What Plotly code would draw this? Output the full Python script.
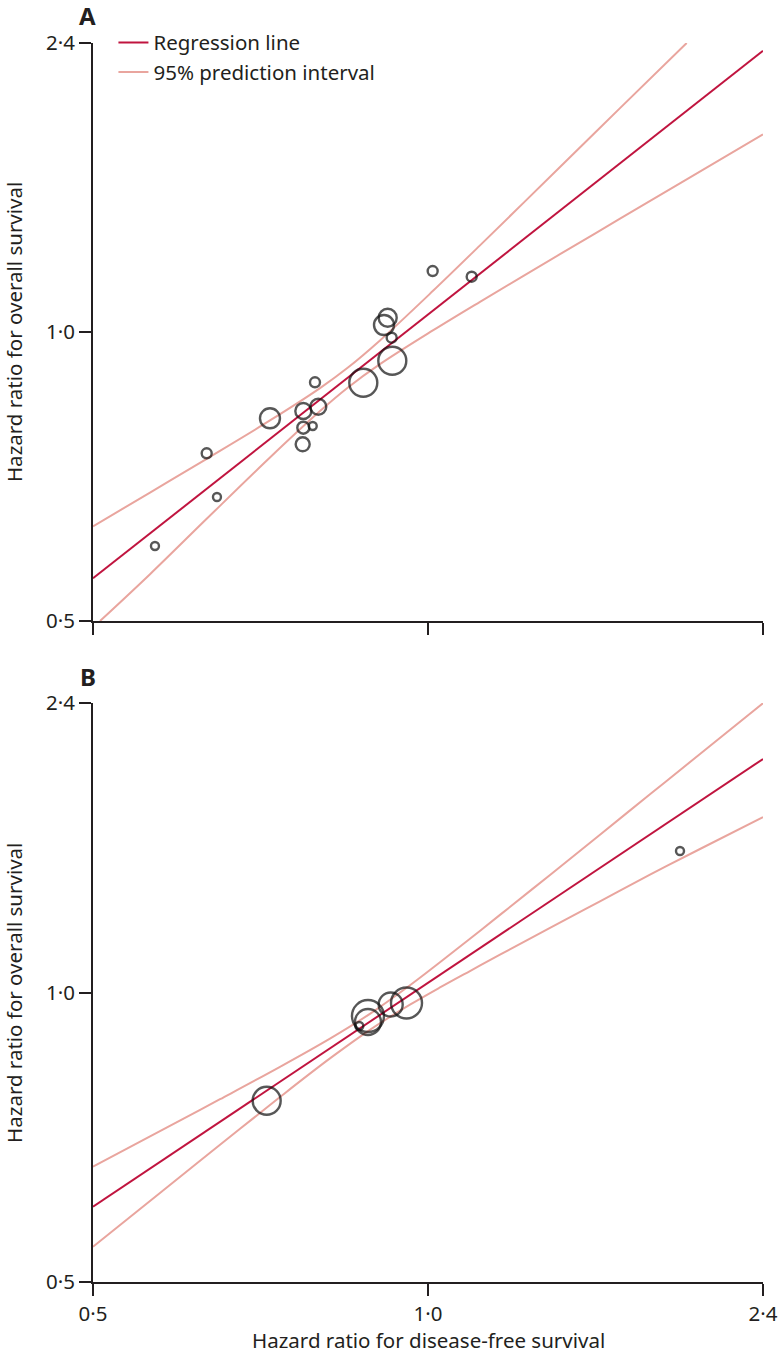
import math
import plotly.graph_objects as go

# ---------------- data (hazard ratios) ----------------
# Panel A: trials
A_dfs = [0.6326, 0.6462, 0.5684, 0.7211, 0.7726, 0.7969, 0.7726, 0.7878, 0.7716,
         0.7915, 0.8747, 0.9288, 0.9276, 0.9130, 0.9200, 1.0097, 1.0946]
A_os = [0.7476, 0.6732, 0.5985, 0.8130, 0.8274, 0.8359, 0.7949, 0.7981, 0.7639,
        0.8864, 0.8855, 0.9335, 0.9864, 1.0169, 1.0349, 1.1575, 1.1418]
A_weight = [5, 4, 4, 10, 8, 8, 6, 4, 7, 5, 14, 14, 5, 10, 9, 5, 5]

A_reg_x = [0.5, 2.0]
A_reg_y = [0.5539, 1.9629]
A_upper_x = [0.5, 0.5626, 0.6326, 0.7211, 0.7998, 0.8474, 0.9054, 1.0110, 1.1136,
             1.3141, 1.4878, 1.7079]
A_upper_y = [0.6275, 0.6803, 0.7378, 0.8088, 0.8741, 0.9183, 0.9800, 1.1044, 1.2309,
             1.4855, 1.7108, 2.0]
A_lower_x = [0.5073, 0.5626, 0.6326, 0.7211, 0.7998, 0.8474, 0.9054, 1.0110, 1.1136,
             1.3141, 1.4878, 1.7079, 2.0]
A_lower_y = [0.5, 0.5594, 0.6389, 0.7401, 0.8272, 0.8754, 0.9257, 1.0043, 1.0751,
             1.2052, 1.3122, 1.4420, 1.6063]

# Panel B: trials
B_dfs = [0.7162, 0.8832, 0.8832, 0.8675, 0.9257, 0.9565, 1.6844]
B_os = [0.7718, 0.9452, 0.9319, 0.9230, 0.9717, 0.9752, 1.4033]
B_weight = [14, 16, 13, 4, 12, 15.5, 4]

B_reg_x = [0.5, 2.0]
B_reg_y = [0.5988, 1.7491]
B_band_x = [0.5, 0.5743, 0.6503, 0.7362, 0.8164, 0.8888, 0.9634, 1.0251, 1.0907,
            1.1606, 1.2872, 1.4274, 1.5830, 1.7556, 2.0]
B_upper_y = [0.6590, 0.7174, 0.7745, 0.8370, 0.8955, 0.9518, 1.0174, 1.0750, 1.1372,
             1.2042, 1.3252, 1.4591, 1.6073, 1.7701, 1.999]
B_lower_y = [0.5441, 0.6188, 0.6944, 0.7786, 0.8540, 0.9161, 0.9712, 1.0121, 1.0528,
             1.0947, 1.1673, 1.2441, 1.3258, 1.4100, 1.5222]

tick_vals = [0.5, 1.0, 2.0]
tick_text = ["0·5", "1·0", "2·4"]

# ---------------- styles ----------------
FONT = "Noto Sans"
FS = 20.5
INK = "#231f20"
RED = "#c0143f"
PINK = "#e9a59e"

fig = go.Figure()


def add_panel(xa, ya, reg_x, reg_y, up_x, up_y, lo_x, lo_y, px, py, w, legend):
    fig.add_trace(go.Scatter(x=reg_x, y=reg_y, mode="lines", line=dict(color=RED, width=2),
                             name="Regression line", legendrank=1,
                             showlegend=legend, xaxis=xa, yaxis=ya, hoverinfo="skip"))
    fig.add_trace(go.Scatter(x=up_x, y=up_y, mode="lines", line=dict(color=PINK, width=2, shape="spline"),
                             name="95% prediction interval", legendrank=2,
                             showlegend=legend, xaxis=xa, yaxis=ya, hoverinfo="skip"))
    fig.add_trace(go.Scatter(x=lo_x, y=lo_y, mode="lines", line=dict(color=PINK, width=2, shape="spline"),
                             name="95% prediction interval", showlegend=False,
                             xaxis=xa, yaxis=ya, hoverinfo="skip"))
    fig.add_trace(go.Scatter(x=px, y=py, mode="markers",
                             marker=dict(symbol="circle", size=[2 * v for v in w],
                                         color="rgba(0,0,0,0)", line=dict(color="#111111", width=2.4)),
                             showlegend=False, xaxis=xa, yaxis=ya))


add_panel("x", "y", A_reg_x, A_reg_y, A_upper_x, A_upper_y, A_lower_x, A_lower_y,
          A_dfs, A_os, A_weight, True)
add_panel("x2", "y2", B_reg_x, B_reg_y, B_band_x, B_upper_y, B_band_x, B_lower_y,
          B_dfs, B_os, B_weight, False)

rng = [math.log10(0.5), math.log10(2.0)]
axis_common = dict(type="log", range=rng, showline=True, linecolor=INK, linewidth=2,
                   ticks="outside", ticklen=12, tickwidth=2, tickcolor=INK,
                   tickvals=tick_vals, ticktext=tick_text, showgrid=False, zeroline=False,
                   automargin=False, tickfont=dict(family=FONT, size=FS, color=INK))

fig.update_layout(
    width=778, height=1358,
    margin=dict(l=93, r=15, t=43, b=76, autoexpand=False),
    paper_bgcolor="white", plot_bgcolor="white",
    font=dict(family=FONT, size=FS, color=INK),
    xaxis=dict(axis_common, anchor="y", domain=[0, 1], showticklabels=False),
    yaxis=dict(axis_common, anchor="x", domain=[0.5335, 1]),
    xaxis2=dict(axis_common, anchor="y2", domain=[0, 1]),
    yaxis2=dict(axis_common, anchor="x2", domain=[0, 0.4673]),
    legend=dict(x=0.0305, y=1.0165, xanchor="left", yanchor="top", bgcolor="rgba(0,0,0,0)",
                font=dict(family=FONT, size=FS, color=INK), traceorder="normal"),
    annotations=[
        dict(text="<b>A</b>", x=-0.0075, y=1.0218, xref="paper", yref="paper", showarrow=False,
             font=dict(family=FONT, size=24, color=INK), xanchor="center", yanchor="middle"),
        dict(text="<b>B</b>", x=-0.0075, y=0.4891, xref="paper", yref="paper", showarrow=False,
             font=dict(family=FONT, size=24, color=INK), xanchor="center", yanchor="middle"),
        dict(text="Hazard ratio for overall survival", x=-0.1179, y=0.7667, xref="paper",
             yref="paper", showarrow=False, textangle=-90, xanchor="center", yanchor="middle",
             font=dict(family=FONT, size=FS, color=INK)),
        dict(text="Hazard ratio for overall survival", x=-0.1179, y=0.2333, xref="paper",
             yref="paper", showarrow=False, textangle=-90, xanchor="center", yanchor="middle",
             font=dict(family=FONT, size=FS, color=INK)),
        dict(text="Hazard ratio for disease-free survival", x=0.5, y=-0.0468, xref="paper",
             yref="paper", showarrow=False, xanchor="center", yanchor="middle",
             font=dict(family=FONT, size=FS, color=INK)),
    ],
)

# remove the browser's default page margin so the figure fills the window exactly
fig.write_html("out.html", config={"displayModeBar": False},
               post_script="document.body.style.margin='0';document.body.style.overflow='hidden';")
